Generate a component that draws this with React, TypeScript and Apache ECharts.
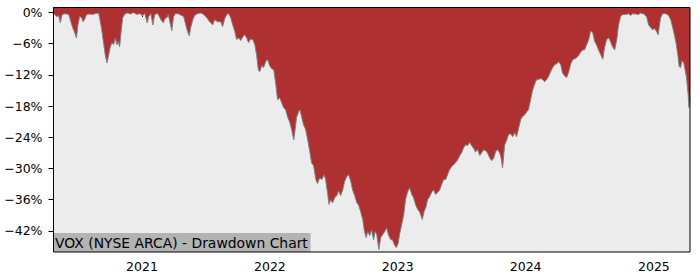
import React, { useEffect, useRef } from 'react';
import * as echarts from 'echarts';

// Drawdown (%) of VOX
const dates2020 = ['2020-04-22','2020-04-27','2020-05-03','2020-05-08','2020-05-13','2020-05-17','2020-05-23','2020-05-31','2020-06-06','2020-06-12','2020-06-17','2020-06-23','2020-06-28','2020-07-02','2020-07-07','2020-07-13','2020-07-17','2020-07-22','2020-07-27','2020-08-05','2020-08-13','2020-08-22','2020-08-30','2020-09-02','2020-09-08','2020-09-14','2020-09-18','2020-09-23','2020-09-28','2020-10-02','2020-10-07','2020-10-12','2020-10-17','2020-10-21','2020-10-25','2020-10-29','2020-11-03','2020-11-07','2020-11-13','2020-11-21','2020-11-30','2020-12-08','2020-12-17','2020-12-25'];
const drawdown2020 = [-0.25,-0.4,-0.8,-0.6,-2.0,-0.6,-0.25,-0.3,-0.4,-1.8,-2.9,-3.9,-4.9,-2.4,-0.8,-1.0,-1.8,-1.2,-0.4,-0.3,-0.4,-0.2,-0.1,-1.0,-3.3,-6.2,-8.1,-9.7,-8.1,-6.8,-5.8,-6.2,-4.9,-6.2,-5.6,-6.6,-3.3,-1.0,-0.3,-0.1,-0.3,0,-0.4,-0.2];

const dates2021 = ['2021-01-03','2021-01-09','2021-01-16','2021-01-20','2021-01-26','2021-02-01','2021-02-06','2021-02-15','2021-02-21','2021-02-26','2021-03-03','2021-03-07','2021-03-13','2021-03-17','2021-03-21','2021-03-27','2021-04-01','2021-04-07','2021-04-16','2021-04-24','2021-04-30','2021-05-06','2021-05-11','2021-05-16','2021-05-20','2021-05-26','2021-05-31','2021-06-09','2021-06-18','2021-06-26','2021-07-05','2021-07-13','2021-07-22','2021-07-27','2021-08-05','2021-08-14','2021-08-19','2021-08-25','2021-08-31','2021-09-05','2021-09-11','2021-09-17','2021-09-23','2021-09-28','2021-10-04','2021-10-10','2021-10-15','2021-10-21','2021-10-27','2021-11-01','2021-11-07','2021-11-13','2021-11-19','2021-11-24','2021-11-29','2021-12-03','2021-12-09','2021-12-14','2021-12-21','2021-12-26','2021-12-31'];
const drawdown2021 = [-0.6,-0.2,-2.0,-0.8,-0.2,-2.4,-0.4,-0.2,-1.0,-1.6,-2.0,-1.2,-1.0,-0.4,-1.6,-3.5,-0.8,-0.2,-0.3,-0.6,-0.8,-2.4,-3.7,-4.5,-2.9,-1.4,-0.6,-0.2,-0.1,-0.4,-1.0,-1.8,-2.4,-1.4,-1.8,-1.8,-2.7,-1.2,-0.4,-0.2,-1.0,-2.4,-3.7,-5.2,-4.9,-5.4,-4.7,-4.3,-4.9,-5.8,-5.1,-5.2,-6.2,-8.1,-11.0,-11.4,-10.2,-10.6,-9.3,-9.1,-10.2];

const dates2022 = ['2022-01-06','2022-01-12','2022-01-18','2022-01-23','2022-01-29','2022-02-04','2022-02-09','2022-02-15','2022-02-21','2022-02-26','2022-03-04','2022-03-10','2022-03-14','2022-03-18','2022-03-24','2022-03-28','2022-04-02','2022-04-07','2022-04-13','2022-04-19','2022-04-25','2022-04-30','2022-05-06','2022-05-12','2022-05-17','2022-05-23','2022-05-29','2022-06-05','2022-06-09','2022-06-15','2022-06-19','2022-06-23','2022-06-29','2022-07-05','2022-07-11','2022-07-16','2022-07-22','2022-07-28','2022-08-02','2022-08-08','2022-08-14','2022-08-20','2022-08-25','2022-08-31','2022-09-06','2022-09-11','2022-09-17','2022-09-23','2022-09-28','2022-10-03','2022-10-07','2022-10-13','2022-10-18','2022-10-24','2022-10-28','2022-11-02','2022-11-08','2022-11-13','2022-11-19','2022-11-25','2022-11-30','2022-12-06','2022-12-12','2022-12-17','2022-12-23','2022-12-28'];
const drawdown2022 = [-10.8,-11.0,-13.9,-16.8,-16.4,-17.4,-18.3,-18.7,-20.2,-21.0,-22.5,-24.5,-22.5,-20.2,-19.1,-18.7,-20.2,-21.6,-22.5,-24.5,-26.8,-28.9,-29.5,-32.1,-32.9,-31.8,-32.1,-31.2,-32.1,-35.0,-36.9,-36.0,-36.6,-35.6,-35.2,-34.3,-35.2,-34.1,-32.5,-31.6,-31.2,-32.5,-34.1,-35.2,-36.6,-37.0,-38.3,-39.8,-42.1,-43.3,-42.1,-42.9,-41.8,-43.7,-42.1,-42.7,-45.6,-43.3,-42.7,-42.1,-41.4,-42.9,-43.7,-43.7,-44.8,-45.2];

const dates2023 = ['2023-01-02','2023-01-06','2023-01-12','2023-01-18','2023-01-23','2023-01-29','2023-02-04','2023-02-10','2023-02-15','2023-02-21','2023-02-27','2023-03-04','2023-03-12','2023-03-17','2023-03-22','2023-03-27','2023-04-02','2023-04-08','2023-04-13','2023-04-19','2023-04-25','2023-04-30','2023-05-06','2023-05-12','2023-05-18','2023-05-23','2023-05-29','2023-06-04','2023-06-09','2023-06-15','2023-06-21','2023-06-27','2023-07-02','2023-07-08','2023-07-14','2023-07-19','2023-07-25','2023-07-31','2023-08-06','2023-08-11','2023-08-17','2023-08-23','2023-08-28','2023-09-03','2023-09-09','2023-09-14','2023-09-20','2023-09-26','2023-10-02','2023-10-07','2023-10-13','2023-10-19','2023-10-23','2023-10-27','2023-11-02','2023-11-08','2023-11-13','2023-11-19','2023-11-25','2023-12-01','2023-12-06','2023-12-12','2023-12-18','2023-12-23','2023-12-29'];
const drawdown2023 = [-44.4,-42.7,-40.8,-38.9,-36.0,-34.5,-33.7,-35.0,-35.6,-37.0,-37.9,-38.3,-39.8,-38.3,-37.5,-36.0,-35.4,-34.5,-34.1,-35.0,-34.6,-34.2,-33.1,-32.1,-32.1,-31.2,-30.2,-29.6,-29.3,-28.9,-28.3,-27.5,-27.0,-26.0,-25.4,-25.6,-25.0,-25.6,-26.2,-26.8,-26.4,-27.5,-27.0,-26.4,-26.6,-27.0,-27.9,-28.5,-28.0,-26.8,-26.4,-27.0,-28.0,-29.9,-25.5,-24.5,-23.5,-23.3,-23.9,-23.1,-23.9,-22.2,-20.6,-20.0,-19.7];

const dates2024 = ['2024-01-04','2024-01-09','2024-01-15','2024-01-21','2024-01-27','2024-02-01','2024-02-07','2024-02-13','2024-02-18','2024-02-24','2024-03-01','2024-03-07','2024-03-12','2024-03-18','2024-03-24','2024-03-29','2024-04-04','2024-04-10','2024-04-15','2024-04-21','2024-04-27','2024-05-03','2024-05-08','2024-05-14','2024-05-20','2024-05-25','2024-05-31','2024-06-06','2024-06-12','2024-06-17','2024-06-23','2024-06-29','2024-07-04','2024-07-10','2024-07-16','2024-07-21','2024-07-27','2024-08-02','2024-08-08','2024-08-13','2024-08-19','2024-08-25','2024-08-30','2024-09-05','2024-09-11','2024-09-17','2024-09-22','2024-09-28','2024-10-04','2024-10-12','2024-10-21','2024-10-27','2024-11-01','2024-11-10','2024-11-18','2024-11-24','2024-12-03','2024-12-11','2024-12-17','2024-12-23','2024-12-28'];
const drawdown2024 = [-19.1,-18.7,-16.8,-14.9,-13.7,-12.9,-12.9,-12.7,-12.9,-13.3,-12.9,-12.2,-11.4,-10.6,-10.0,-9.9,-9.5,-10.0,-11.6,-12.2,-12.5,-11.4,-10.0,-9.1,-8.9,-8.7,-8.3,-7.6,-7.2,-7.2,-6.2,-5.2,-3.6,-3.8,-5.6,-6.2,-7.2,-8.1,-9.0,-6.8,-5.2,-4.9,-5.6,-6.6,-7.2,-5.2,-2.4,-0.8,-0.4,-0.4,-0.25,-0.6,-0.25,-0.3,-0.4,-0.1,-0.3,-0.8,-2.4,-2.9,-3.3];

const dates2025 = ['2025-01-03','2025-01-09','2025-01-13','2025-01-20','2025-01-26','2025-02-01','2025-02-06','2025-02-12','2025-02-18','2025-02-23','2025-03-01','2025-03-05','2025-03-10','2025-03-14','2025-03-18','2025-03-22','2025-03-27','2025-03-31','2025-04-04','2025-04-09','2025-04-11','2025-04-14'];
const drawdown2025 = [-3.1,-3.7,-4.3,-1.0,-0.25,-0.2,-0.3,-0.6,-1.4,-2.7,-4.5,-5.8,-8.0,-10.4,-10.6,-9.3,-9.6,-11.0,-12.5,-16.0,-18.3,-16.8];

const yearTicks = ['2021-01-01', '2022-01-01', '2023-01-01', '2024-01-01', '2025-01-01'];
const percentTicks = [0, -6, -12, -18, -24, -30, -36, -42];
const chartLabel = 'VOX (NYSE ARCA) - Drawdown Chart';

const FONT = 'DejaVu Sans';

function toTime(s: string): number {
  const [y, m, d] = s.split('-').map(Number);
  return new Date(y, m - 1, d).getTime();
}

export default function App() {
  const ref = useRef<HTMLDivElement>(null);

  useEffect(() => {
    if (!ref.current) return;
    const chart = echarts.init(ref.current, null, { renderer: 'svg' });
    const dates = [...dates2020, ...dates2021, ...dates2022, ...dates2023, ...dates2024, ...dates2025];
    const dd = [...drawdown2020, ...drawdown2021, ...drawdown2022, ...drawdown2023, ...drawdown2024, ...drawdown2025];
    const data = dates.map((d, i) => [toTime(d), dd[i]]);
    const yearValues = yearTicks.map(toTime);

    chart.setOption({
      animation: false,
      backgroundColor: '#ffffff',
      grid: {
        left: 53,
        top: 7,
        width: 637,
        height: 245,
        show: true,
        backgroundColor: '#ececec',
        borderWidth: 0,
      },
      xAxis: {
        type: 'value',
        min: data[0][0],
        max: data[data.length - 1][0],
        axisLine: { show: false },
        splitLine: { show: false },
        axisTick: {
          show: true,
          customValues: yearValues,
          length: 4.5,
          lineStyle: { color: '#000', width: 1 },
        },
        axisLabel: {
          customValues: yearValues,
          formatter: (v: number) => String(new Date(v).getFullYear()),
          fontFamily: FONT,
          fontSize: 12.5,
          color: '#000',
          margin: 8,
        },
      },
      yAxis: {
        type: 'value',
        min: -46.05,
        max: 1.05,
        axisLine: { show: false },
        splitLine: { show: false },
        axisTick: {
          show: true,
          customValues: percentTicks,
          length: 4.5,
          lineStyle: { color: '#000', width: 1 },
        },
        axisLabel: {
          customValues: percentTicks,
          formatter: (v: number) => (v < 0 ? '\u2212' : '') + Math.abs(v) + '%',
          fontFamily: FONT,
          fontSize: 12.5,
          color: '#000',
          margin: 10.5,
        },
      },
      series: [
        {
          type: 'line',
          data,
          showSymbol: false,
          symbol: 'none',
          silent: true,
          lineStyle: { color: '#808080', width: 1 },
          areaStyle: { color: '#af3030', opacity: 1, origin: 'end' },
        },
      ],
      graphic: [
        {
          type: 'rect',
          z: 100,
          shape: { x: 53.5, y: 233, width: 257, height: 19 },
          style: { fill: '#b3b3b3' },
        },
        {
          type: 'text',
          z: 101,
          x: 55,
          y: 242.5,
          style: {
            text: chartLabel,
            fill: '#000',
            font: `13.9px "${FONT}"`,
            verticalAlign: 'middle',
          },
        },
        {
          type: 'rect',
          z: 102,
          shape: { x: 53.5, y: 7.5, width: 636.5, height: 244.5 },
          style: { fill: 'none', stroke: '#000', lineWidth: 1 },
        },
      ],
    });

    return () => chart.dispose();
  }, []);

  return (
    <div
      ref={ref}
      style={{ position: 'fixed', left: 0, top: 0, width: 700, height: 280 }}
    />
  );
}
